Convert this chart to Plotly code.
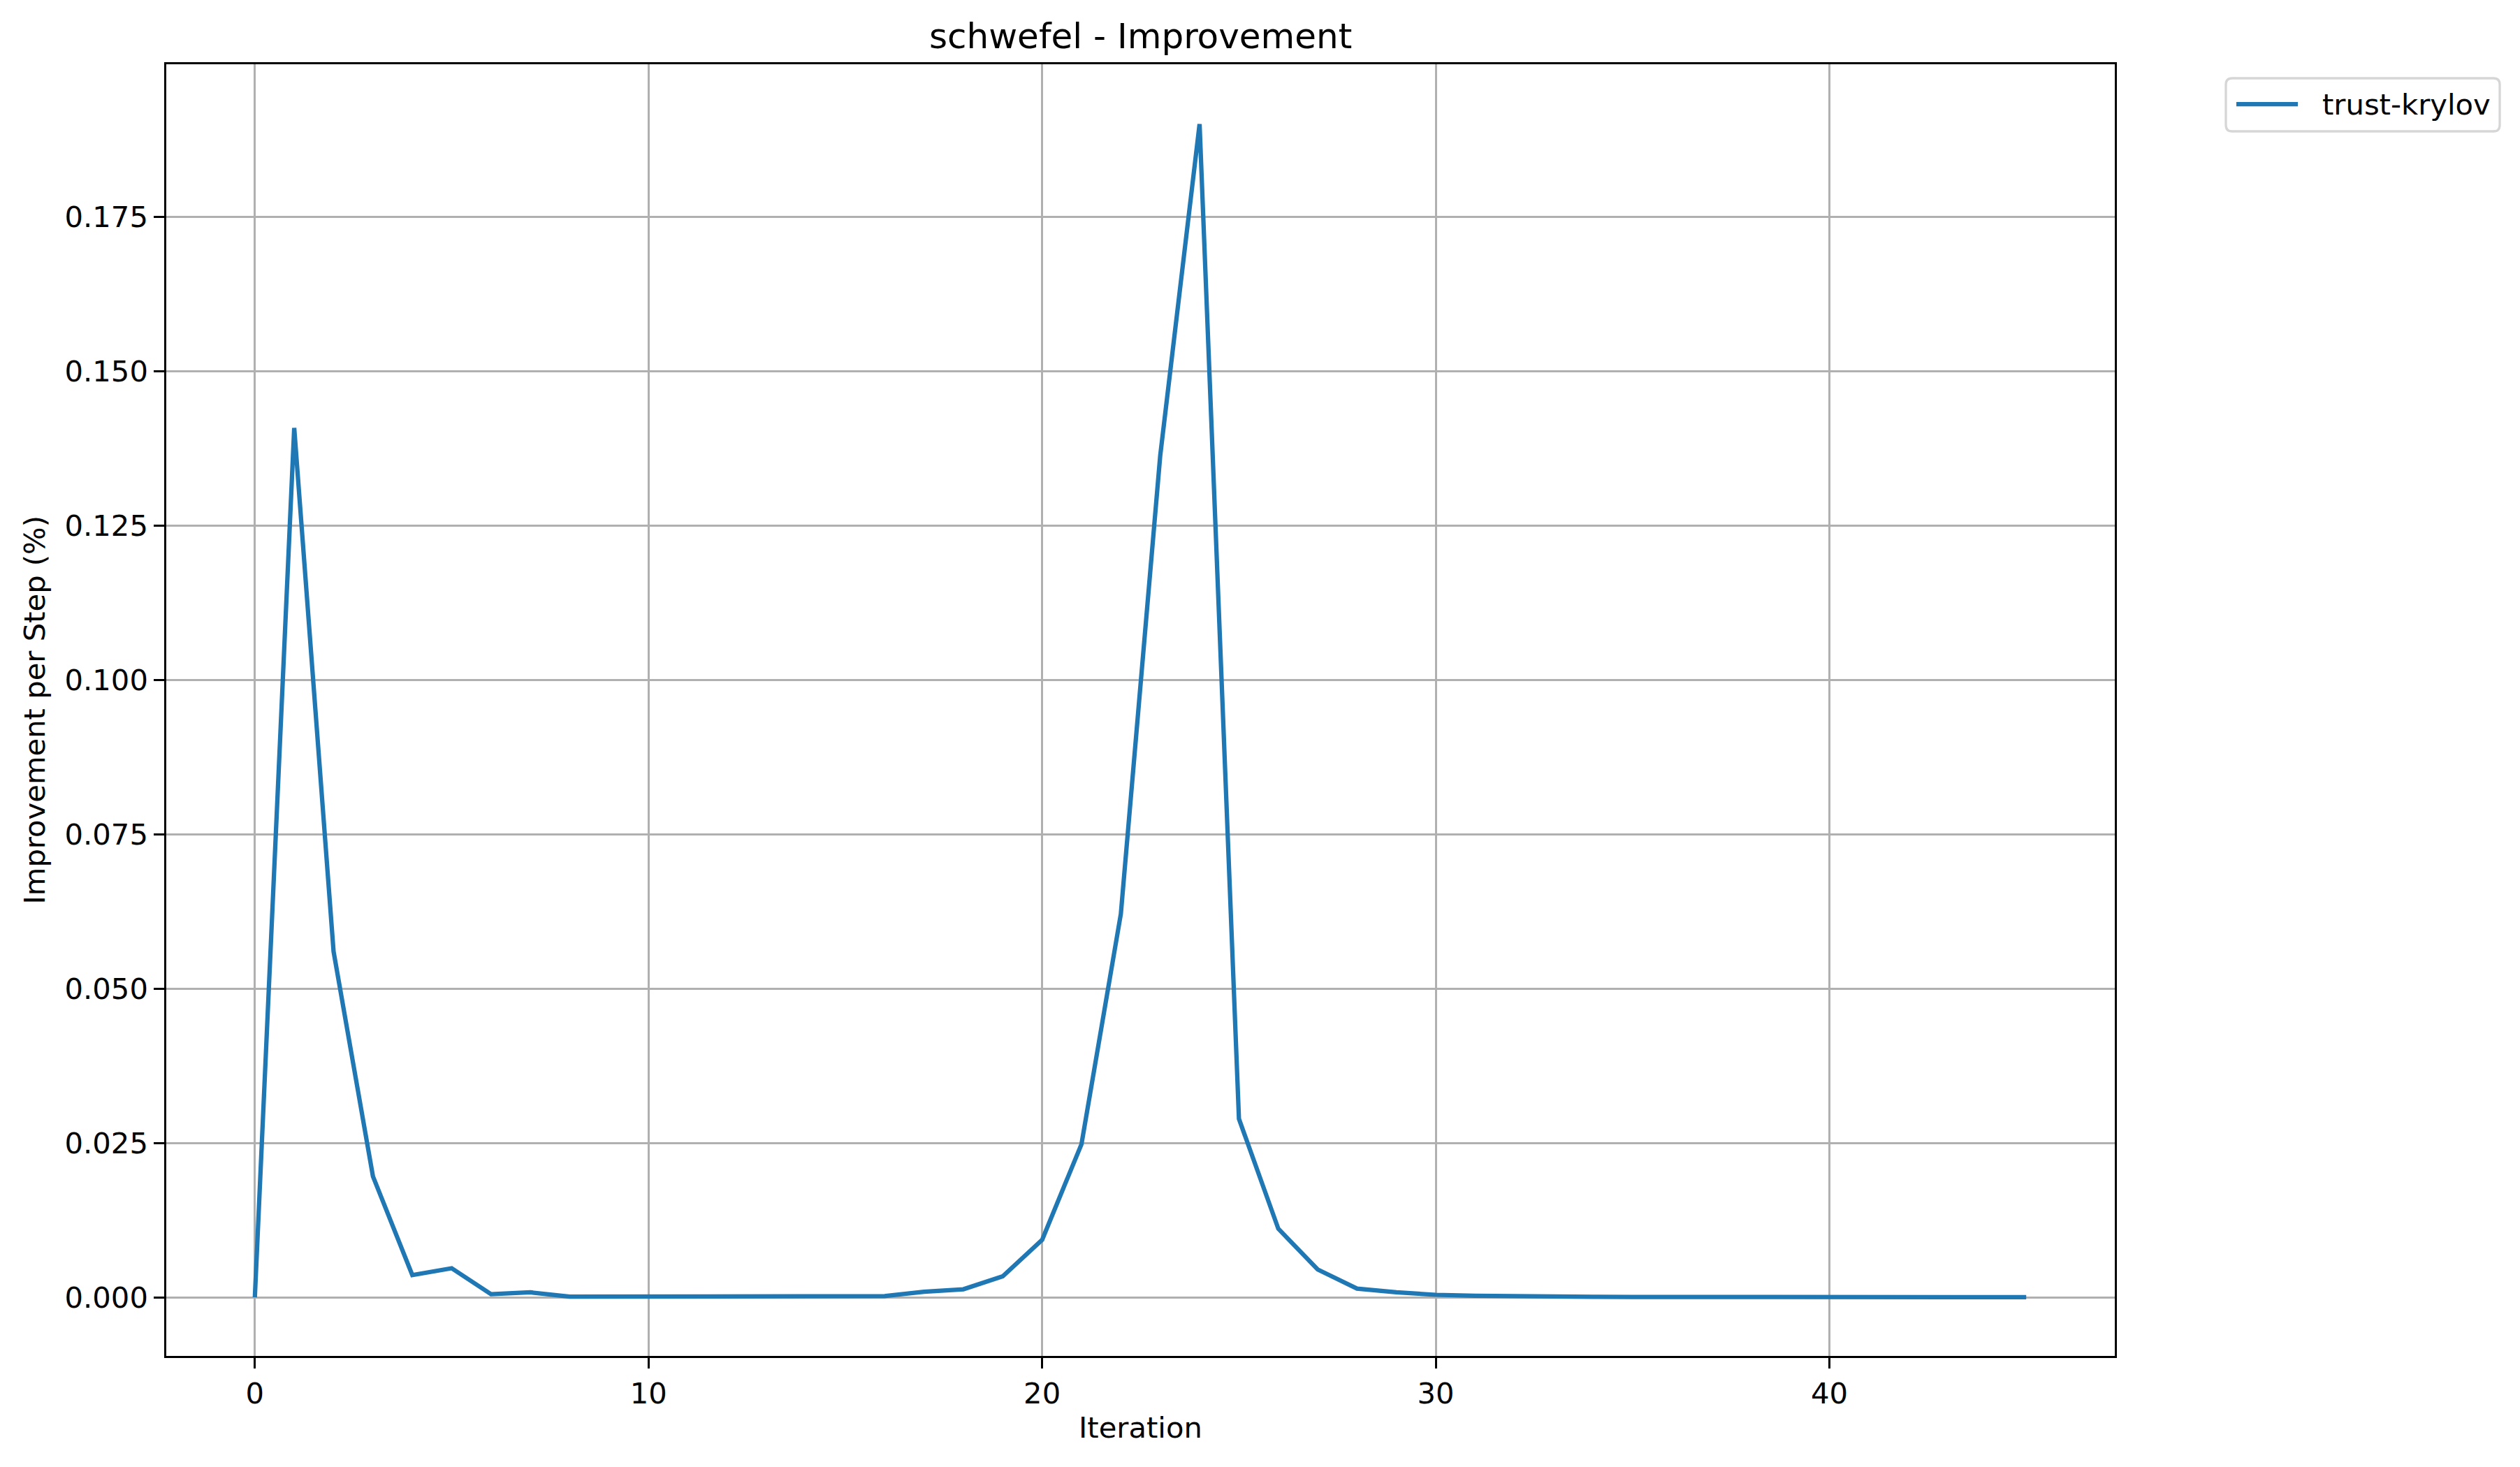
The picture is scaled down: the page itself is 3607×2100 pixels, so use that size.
import plotly.graph_objects as go

iterations = list(range(46))
improvement = [
    0.0, 0.1408, 0.0560, 0.0196, 0.0036, 0.0047, 0.0005, 0.0008, 0.0001, 0.0001,
    0.0001, 0.0002, 0.0001, 0.0002, 0.0001, 0.0001, 0.0002, 0.0009, 0.0013, 0.0034,
    0.0093, 0.0248, 0.0621, 0.1363, 0.1900, 0.0289, 0.0111, 0.0045, 0.0014, 0.0008,
    0.0004, 0.00025, 0.00015, 0.0001, 0.00007, 0.00005, 0.00004, 0.00003, 0.00002, 0.00002,
    0.00001, 0.00001, 0.00001, 0.00001, 0.00001, 0.00001,
]
series_name = "trust-krylov"
title_text = "schwefel - Improvement"
x_label = "Iteration"
y_label = "Improvement per Step (%)"
x_ticks = [0, 10, 20, 30, 40]
y_ticks = [0.0, 0.025, 0.05, 0.075, 0.1, 0.125, 0.15, 0.175]

W, H = 3607, 2100
L, R, T, B = 238, 580, 92, 159
PW, PH = W - L - R, H - T - B
FONT = "DejaVu Sans"
FS = 41.7
LINE_COLOR = "#1f77b4"


def px_x(px):
    return (px - L) / PW


def px_y(py):
    return (H - B - py) / PH


fig = go.Figure()
fig.add_trace(go.Scatter(
    x=iterations, y=improvement, mode="lines", name=series_name,
    line=dict(color=LINE_COLOR, width=6.25), showlegend=False,
))

axis_common = dict(
    showline=True, mirror=True, linecolor="black", linewidth=3.3,
    ticks="outside", ticklen=14.6, tickwidth=3.3, tickcolor="black",
    showgrid=True, gridcolor="#b0b0b0", gridwidth=3.3, zeroline=False,
    tickfont=dict(family=FONT, size=FS, color="black"),
)

fig.update_xaxes(range=[-2.25, 47.25], tickvals=x_ticks,
                 ticktext=[str(v) for v in x_ticks], **axis_common)
fig.update_yaxes(range=[-0.0095, 0.1997], tickvals=y_ticks,
                 ticktext=[f"{v:.3f}" for v in y_ticks], **axis_common)

# legend drawn manually (matplotlib-style rounded frame)
bx0, bx1, by0, by1, rr = 3186, 3578, 112, 188, 9
x0, x1 = px_x(bx0), px_x(bx1)
y0, y1 = px_y(by0), px_y(by1)  # y0 top, y1 bottom (paper)
rx, ry = rr / PW, rr / PH
path = (f"M {x0+rx},{y0} L {x1-rx},{y0} Q {x1},{y0} {x1},{y0-ry} "
        f"L {x1},{y1+ry} Q {x1},{y1} {x1-rx},{y1} L {x0+rx},{y1} "
        f"Q {x0},{y1} {x0},{y1+ry} L {x0},{y0-ry} Q {x0},{y0} {x0+rx},{y0} Z")
shapes = [
    dict(type="path", xref="paper", yref="paper", path=path,
         line=dict(color="#d6d6d6", width=3.3), fillcolor="white", layer="above"),
    dict(type="line", xref="paper", yref="paper",
         x0=px_x(3201), x1=px_x(3289), y0=px_y(149), y1=px_y(149),
         line=dict(color=LINE_COLOR, width=6.25), layer="above"),
]

fig.update_layout(
    width=W, height=H,
    margin=dict(l=L, r=R, t=T, b=B, pad=0),
    paper_bgcolor="white", plot_bgcolor="white",
    font=dict(family=FONT, size=FS, color="black"),
    showlegend=False,
    shapes=shapes,
    annotations=[
        dict(text=title_text, xref="paper", yref="paper", x=0.5, y=1,
             xanchor="center", yanchor="bottom", yshift=9, showarrow=False,
             font=dict(family=FONT, size=50, color="black")),
        dict(text=x_label, xref="paper", yref="paper", x=0.5, y=0,
             xanchor="center", yanchor="top", yshift=-76, showarrow=False,
             font=dict(family=FONT, size=FS, color="black")),
        dict(text=y_label, xref="paper", yref="paper", x=0, y=0.5,
             xanchor="center", yanchor="middle", xshift=-189, textangle=-90,
             showarrow=False, font=dict(family=FONT, size=FS, color="black")),
        dict(text=series_name, xref="paper", yref="paper", x=px_x(3322), y=px_y(149),
             xanchor="left", yanchor="middle", showarrow=False,
             font=dict(family=FONT, size=FS, color="black")),
    ],
)

fig.write_html("out.html", config={"displayModeBar": False},
               post_script="document.body.style.margin='0';")
